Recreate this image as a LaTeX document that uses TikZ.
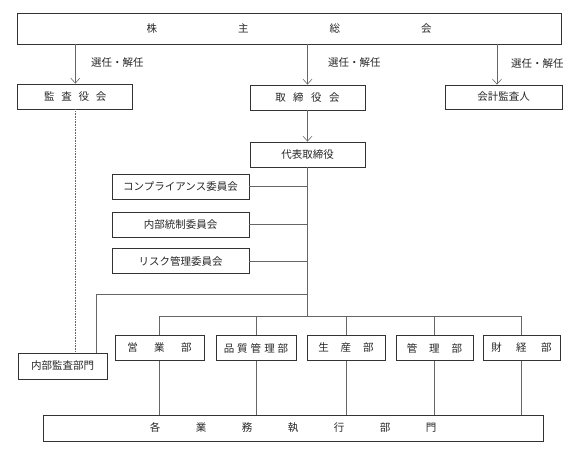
\documentclass[tikz,border=0pt]{standalone}
\usepackage{fontspec}
\setmainfont{Noto Sans CJK JP}
\usetikzlibrary{arrows.meta}

\begin{document}
\begin{tikzpicture}[
    x = 1pt,
    y = -1pt,
    >={Straight Barb[length=5pt,width=9pt]},
    box/.style = {
      draw = black!80,
      line width = 0.8pt,
      rectangle,
      inner sep = 0pt,
      minimum height = 25pt,
      text = black!85,
      font = \fontsize{10.5}{12}\selectfont
    },
    link/.style = {
      draw = black!60,
      line width = 0.6pt
    },
    lbl/.style = {
      anchor = west,
      inner sep = 0pt,
      text = black!85,
      font = \fontsize{10.5}{12}\selectfont
    }
  ]
  \useasboundingbox (0,0) rectangle (584,452);

  % top level
  \node[box, minimum width=544pt, minimum height=31pt] (gm) at (289,28.5)
    {株\hspace{81pt}主\hspace{81pt}総\hspace{81pt}会};

  \node[box, minimum width=115pt] (kansa) at (75.3,96.5)
    {監\hspace{6.8pt}査\hspace{6.8pt}役\hspace{6.8pt}会};
  \node[box, minimum width=115pt] (board) at (307.5,97.5)
    {取\hspace{7.5pt}締\hspace{7.5pt}役\hspace{7.5pt}会};
  \node[box, minimum width=117pt, minimum height=24pt] (acct) at (503.5,97) {会計監査人};

  \draw[link,->] (kansa.north |- gm.south) -- (kansa.north);
  \draw[link,->] (board.north |- gm.south) -- (board.north);
  \draw[link,->] ([xshift=-6.5pt]acct.north |- gm.south) -- ([xshift=-6.5pt]acct.north);

  \node[lbl] (sel1) at (91,63) {選任・解任};
  \node[lbl] (sel2) at (328,63) {選任・解任};
  \node[lbl] (sel3) at (511,64) {選任・解任};

  % representative and committees
  \node[box, minimum width=115pt] (rep) at (307.5,154.5) {代表取締役};
  \draw[link,->] (board) -- (rep);

  \node[box, minimum width=137pt] (comp) at (180.5,186.5) {コンプライアンス委員会};
  \node[box, minimum width=137pt] (ictl) at (180.5,224.5) {内部統制委員会};
  \node[box, minimum width=137pt] (risk) at (180.5,261) {リスク管理委員会};

  \coordinate (tap) at (307.5,294);
  \coordinate (hub) at (307.5,316);

  \draw[link] (rep.south) -- (hub);
  \foreach \c in {comp,ictl,risk}
    \draw[link] (\c.east) -- (\c.east -| hub);

  % internal audit
  \node[box, minimum width=89pt, minimum height=26pt] (ia) at (62.5,366) {内部監査部門};
  \draw[link] (tap) -| ([xshift=-11pt]ia.north east);
  \draw[link, densely dotted] (kansa.south) -- (kansa.south |- ia.north);

  % departments
  \node[box, minimum width=89pt] (sales) at (159.5,348)
    {営\hspace{16.5pt}業\hspace{16.5pt}部};
  \node[box, minimum width=80pt] (qa) at (256,348)
    {品\hspace{3pt}質\hspace{3pt}管\hspace{3pt}理\hspace{3pt}部};
  \node[box, minimum width=78pt] (prod) at (346,348)
    {生\hspace{12pt}産\hspace{12pt}部};
  \node[box, minimum width=77pt] (mgmt) at (434.5,348)
    {管\hspace{12pt}理\hspace{12pt}部};
  \node[box, minimum width=77pt] (fin) at (521.5,348)
    {財\hspace{14.5pt}経\hspace{14.5pt}部};

  \node[box, minimum width=500pt, minimum height=26pt] (exec) at (293,428)
    {各\hspace{35.5pt}業\hspace{35.5pt}務\hspace{35.5pt}執\hspace{35.5pt}行\hspace{35.5pt}部\hspace{35.5pt}門};

  \draw[link] (sales.north |- hub) -- (fin.north |- hub);
  \foreach \d in {sales,qa,prod,mgmt,fin} {
    \draw[link] (\d.north |- hub) -- (\d.north);
    \draw[link] (\d.south) -- (\d.south |- exec.north);
  }

\end{tikzpicture}
\end{document}
